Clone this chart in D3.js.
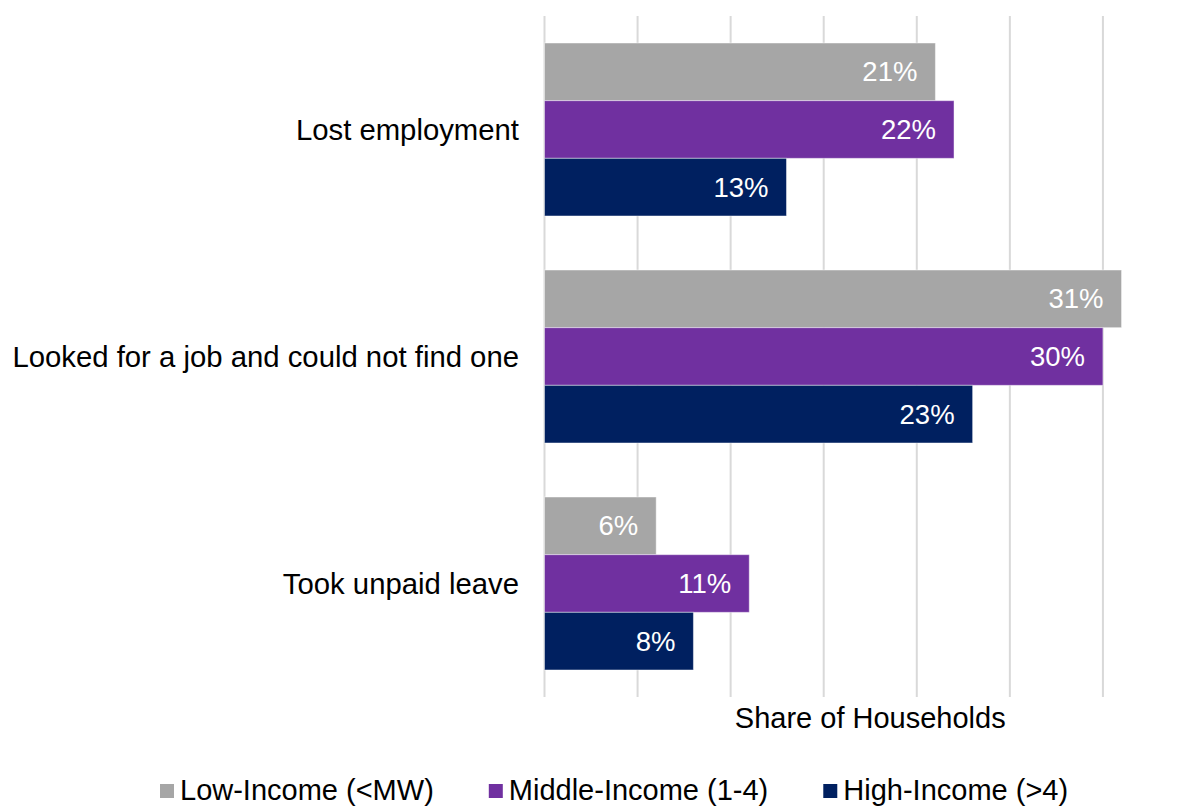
<!DOCTYPE html>
<html>
<head>
<meta charset="utf-8">
<script src="https://cdn.jsdelivr.net/npm/d3@7"></script>
<style>
  html, body { margin: 0; padding: 0; background: #fff; }
  svg { display: block; font-family: "Liberation Sans", Arial, sans-serif; }
</style>
</head>
<body>
<svg id="chart" width="1183" height="806"></svg>
<script>
// Reasons reported, by household income group (share of households, %)
const categories = ["Lost employment", "Looked for a job and could not find one", "Took unpaid leave"];
const seriesNames = ["Low-Income (<MW)", "Middle-Income (1-4)", "High-Income (>4)"];
const lowIncome = [21, 31, 6];
const middleIncome = [22, 30, 11];
const highIncome = [13, 23, 8];
const seriesColors = ["#a6a6a6", "#7030a0", "#002060"];
const xTicks = [0, 5, 10, 15, 20, 25, 30, 35];
const axisTitle = "Share of Households";

const seriesValues = [lowIncome, middleIncome, highIncome];

const svg = d3.select("#chart");
const plot = { left: 544.5, right: 1196, top: 16, bottom: 697 };

const x = d3.scaleLinear().domain([0, 35]).range([plot.left, plot.right]);
const y0 = d3.scaleBand().domain(categories).range([plot.top, plot.bottom])
  .paddingInner(0.238).paddingOuter(0.119);
const y1 = d3.scaleBand().domain(seriesNames).range([0, y0.bandwidth()]);

// vertical gridlines
svg.append("g")
  .selectAll("line")
  .data(xTicks)
  .join("line")
  .attr("x1", d => x(d)).attr("x2", d => x(d))
  .attr("y1", plot.top).attr("y2", plot.bottom)
  .attr("stroke", "#d9d9d9")
  .attr("stroke-width", 2);

// bars
const groups = svg.append("g")
  .selectAll("g")
  .data(categories)
  .join("g")
  .attr("transform", c => `translate(0,${y0(c)})`);

const cells = groups.selectAll("g")
  .data((c, i) => seriesNames.map((s, j) => ({ s, j, v: seriesValues[j][i] })))
  .join("g");

cells.append("rect")
  .attr("x", x(0))
  .attr("y", d => y1(d.s))
  .attr("width", d => x(d.v) - x(0))
  .attr("height", y1.bandwidth())
  .attr("fill", d => seriesColors[d.j])
  .attr("stroke", "#ffffff")
  .attr("stroke-opacity", 0.45)
  .attr("stroke-width", 1);

cells.append("text")
  .attr("x", d => x(d.v) - 18)
  .attr("y", d => y1(d.s) + y1.bandwidth() / 2)
  .attr("dy", "0.35em")
  .attr("text-anchor", "end")
  .attr("fill", "#ffffff")
  .attr("font-size", 27.5)
  .text(d => d.v + "%");

// category labels
svg.append("g")
  .selectAll("text")
  .data(categories)
  .join("text")
  .attr("x", 519)
  .attr("y", c => y0(c) + y0.bandwidth() / 2)
  .attr("dy", "0.35em")
  .attr("text-anchor", "end")
  .attr("fill", "#000")
  .attr("font-size", 29.3)
  .text(c => c);

// axis title
svg.append("text")
  .attr("x", (plot.left + plot.right) / 2)
  .attr("y", 728)
  .attr("text-anchor", "middle")
  .attr("fill", "#000")
  .attr("font-size", 29)
  .text(axisTitle);

// legend
const legend = svg.append("g").attr("transform", "translate(160,790)");
let lx = 0;
seriesNames.forEach((name, j) => {
  const item = legend.append("g").attr("transform", `translate(${lx},0)`);
  item.append("rect")
    .attr("x", 0).attr("y", -6)
    .attr("width", 14).attr("height", 14)
    .attr("fill", seriesColors[j]);
  const t = item.append("text")
    .attr("x", 20).attr("dy", "0.35em")
    .attr("fill", "#000")
    .attr("font-size", 29)
    .text(name);
  lx += 20 + t.node().getComputedTextLength() + 55;
});
</script>
</body>
</html>
